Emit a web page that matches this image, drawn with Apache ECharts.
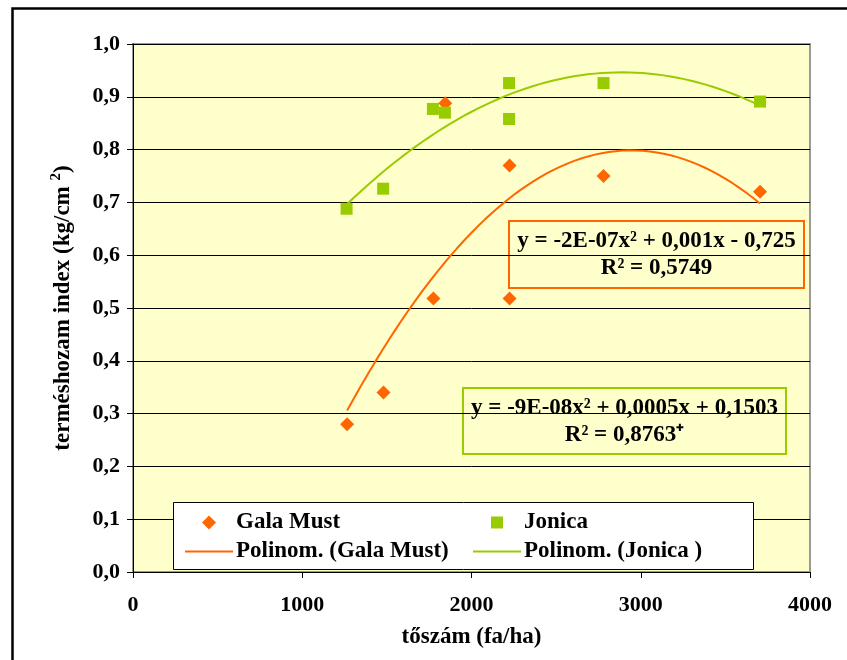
<!DOCTYPE html>
<html>
<head>
<meta charset="utf-8">
<script src="https://cdn.jsdelivr.net/npm/echarts@6/dist/echarts.min.js"></script>
<style>
  html, body { margin: 0; padding: 0; background: #ffffff; }
  #chart { width: 847px; height: 660px; }
</style>
</head>
<body>
<div id="chart"></div>
<script>
// Tree density (trees/ha) and crop-load index for the two apple cultivars
const galaX   = [1265, 1480, 1775, 1845, 2225, 2225, 2780, 3705];
const galaY   = [0.28, 0.34, 0.518, 0.888, 0.518, 0.77, 0.75, 0.72];
const jonicaX = [1262, 1478, 1772, 1843, 2222, 2222, 2780, 3705];
const jonicaY = [0.688, 0.726, 0.877, 0.870, 0.926, 0.858, 0.926, 0.891];

const seriesNames = ['Gala Must', 'Jonica'];
const trendNames  = ['Polinom. (Gala Must)', 'Polinom. (Jonica )'];
const galaEquation   = ['y = -2E-07x² + 0,001x - 0,725', 'R² = 0,5749'];
const jonicaEquation = ['y = -9E-08x² + 0,0005x + 0,1503', 'R² = 0,8763⁺'];

const xTicks = [0, 1000, 2000, 3000, 4000];
const yTicks = [0, 0.1, 0.2, 0.3, 0.4, 0.5, 0.6, 0.7, 0.8, 0.9, 1.0];

const ORANGE = '#FF6600';
const GREEN  = '#99CC00';
const SERIF  = "'Liberation Serif', 'Times New Roman', serif";

// Legend glyphs (path icons keep their aspect ratio inside the legend slot)
const ICON_DIAMOND = 'path://M0,-1L1,0L0,1L-1,0Z';
const ICON_SQUARE  = 'path://M0,0H1V1H0Z';
const ICON_LINE    = 'path://M0,0H48V2H0Z';

// Second-order least-squares fit (x scaled to thousands for stability)
function quadFit(xs, ys) {
  const S = [0, 0, 0, 0, 0], T = [0, 0, 0];
  xs.forEach((x, i) => {
    const u = x / 1000;
    let p = 1;
    for (let k = 0; k < 5; k++) { S[k] += p; if (k < 3) T[k] += p * ys[i]; p *= u; }
  });
  const A = [[S[0], S[1], S[2], T[0]], [S[1], S[2], S[3], T[1]], [S[2], S[3], S[4], T[2]]];
  for (let c = 0; c < 3; c++) {
    for (let r = c + 1; r < 3; r++) {
      const f = A[r][c] / A[c][c];
      for (let k = c; k < 4; k++) A[r][k] -= f * A[c][k];
    }
  }
  const b = [0, 0, 0];
  for (let r = 2; r >= 0; r--) {
    let s = A[r][3];
    for (let k = r + 1; k < 3; k++) s -= A[r][k] * b[k];
    b[r] = s / A[r][r];
  }
  return x => { const u = x / 1000; return b[0] + b[1] * u + b[2] * u * u; };
}

function trendCurve(xs, ys) {
  const f = quadFit(xs, ys);
  const lo = Math.min(...xs), hi = Math.max(...xs);
  const pts = [];
  const n = 60;
  for (let i = 0; i <= n; i++) {
    const x = lo + (hi - lo) * i / n;
    pts.push([x, f(x)]);
  }
  return pts;
}

const pair = (xs, ys) => xs.map((x, i) => [x, ys[i]]);

const chart = echarts.init(document.getElementById('chart'), null, { renderer: 'canvas' });

const textBold = { fontFamily: SERIF, fontWeight: 'bold', color: '#000' };

function equationBox(lines, color, left, top, width, height) {
  const txt = (s, y) => ({
    type: 'text', x: width / 2, y: y,
    style: { text: s, fontSize: 23, align: 'center', verticalAlign: 'middle',
             fontFamily: SERIF, fontWeight: 'bold', fill: '#000' }
  });
  return {
    type: 'group', left: left, top: top, z: 50,
    children: [
      { type: 'rect', shape: { x: 0, y: 0, width: width, height: height },
        style: { fill: '#FFFFCC', stroke: color, lineWidth: 2 } },
      txt(lines[0], 20),
      txt(lines[1], 47)
    ]
  };
}

const legendText = Object.assign({ fontSize: 23, padding: [0, 0, 0, -2] }, textBold);

const option = {
  animation: false,
  backgroundColor: '#ffffff',
  grid: {
    left: 133, right: 37, top: 44, bottom: 88,
    show: true, backgroundColor: '#FFFFCC', borderColor: '#999999', borderWidth: 2
  },
  xAxis: {
    type: 'value', min: xTicks[0], max: xTicks[xTicks.length - 1], interval: 1000,
    name: 'tőszám (fa/ha)', nameLocation: 'middle', nameGap: 54,
    nameTextStyle: Object.assign({ fontSize: 23 }, textBold),
    axisLine: { show: true, onZero: false, lineStyle: { color: '#000', width: 1 } },
    axisTick: { show: true, inside: false, length: 6, lineStyle: { color: '#000' } },
    axisLabel: Object.assign({ fontSize: 22, margin: 22, formatter: v => String(v) }, textBold),
    splitLine: { show: false }
  },
  yAxis: {
    type: 'value', min: yTicks[0], max: yTicks[yTicks.length - 1], interval: 0.1,
    name: '{t|terméshozam index (kg/cm }{s|2}{t|)}', nameLocation: 'middle', nameGap: 58,
    nameRotate: 90,
    nameTextStyle: {
      rich: {
        t: Object.assign({ fontSize: 23, lineHeight: 26, verticalAlign: 'bottom' }, textBold),
        s: Object.assign({ fontSize: 15, lineHeight: 26, verticalAlign: 'top', padding: [0, 0, 10, 0] }, textBold)
      }
    },
    axisLine: { show: true, onZero: false, lineStyle: { color: '#000', width: 1 } },
    axisTick: { show: true, inside: false, length: 6, lineStyle: { color: '#000' } },
    axisLabel: Object.assign({
      fontSize: 22, margin: 13,
      formatter: v => v.toFixed(1).replace('.', ',')
    }, textBold),
    splitLine: { show: true, lineStyle: { color: '#000', width: 1 } }
  },
  legend: [
    {
      data: [{ name: seriesNames[0], icon: ICON_DIAMOND }, { name: trendNames[0], icon: ICON_LINE }],
      orient: 'vertical', left: 180, top: 506, itemWidth: 48, itemHeight: 14, itemGap: 6,
      textStyle: legendText, selectedMode: false, z: 60
    },
    {
      data: [{ name: seriesNames[1], icon: ICON_SQUARE }, { name: trendNames[1], icon: ICON_LINE }],
      orient: 'vertical', left: 468, top: 506, itemWidth: 48, itemHeight: 12, itemGap: 6,
      textStyle: legendText, selectedMode: false, z: 60
    }
  ],
  graphic: [
    // outer chart frame
    { type: 'rect', left: 10, top: 6, z: 100, silent: true,
      shape: { width: 850, height: 670 },
      style: { fill: null, stroke: '#000', lineWidth: 2.5 } },
    // legend panel
    { type: 'rect', left: 173, top: 502, z: 40, silent: true,
      shape: { width: 580, height: 67 },
      style: { fill: '#ffffff', stroke: '#000', lineWidth: 1 } },
    equationBox(galaEquation, ORANGE, 508, 220, 295, 67),
    equationBox(jonicaEquation, GREEN, 462, 387, 323, 66)
  ],
  series: [
    {
      name: trendNames[0], type: 'line', data: trendCurve(galaX, galaY),
      symbol: 'none', smooth: false, lineStyle: { color: ORANGE, width: 2 },
      itemStyle: { color: ORANGE }, z: 2
    },
    {
      name: trendNames[1], type: 'line', data: trendCurve(jonicaX, jonicaY),
      symbol: 'none', smooth: false, lineStyle: { color: GREEN, width: 2 },
      itemStyle: { color: GREEN }, z: 2
    },
    {
      name: seriesNames[0], type: 'scatter', data: pair(galaX, galaY),
      symbol: 'diamond', symbolSize: [14, 14], itemStyle: { color: ORANGE, opacity: 1 }, z: 3
    },
    {
      name: seriesNames[1], type: 'scatter', data: pair(jonicaX, jonicaY),
      symbol: 'rect', symbolSize: 12, itemStyle: { color: GREEN, opacity: 1 }, z: 4
    }
  ]
};

chart.setOption(option);
</script>
</body>
</html>
